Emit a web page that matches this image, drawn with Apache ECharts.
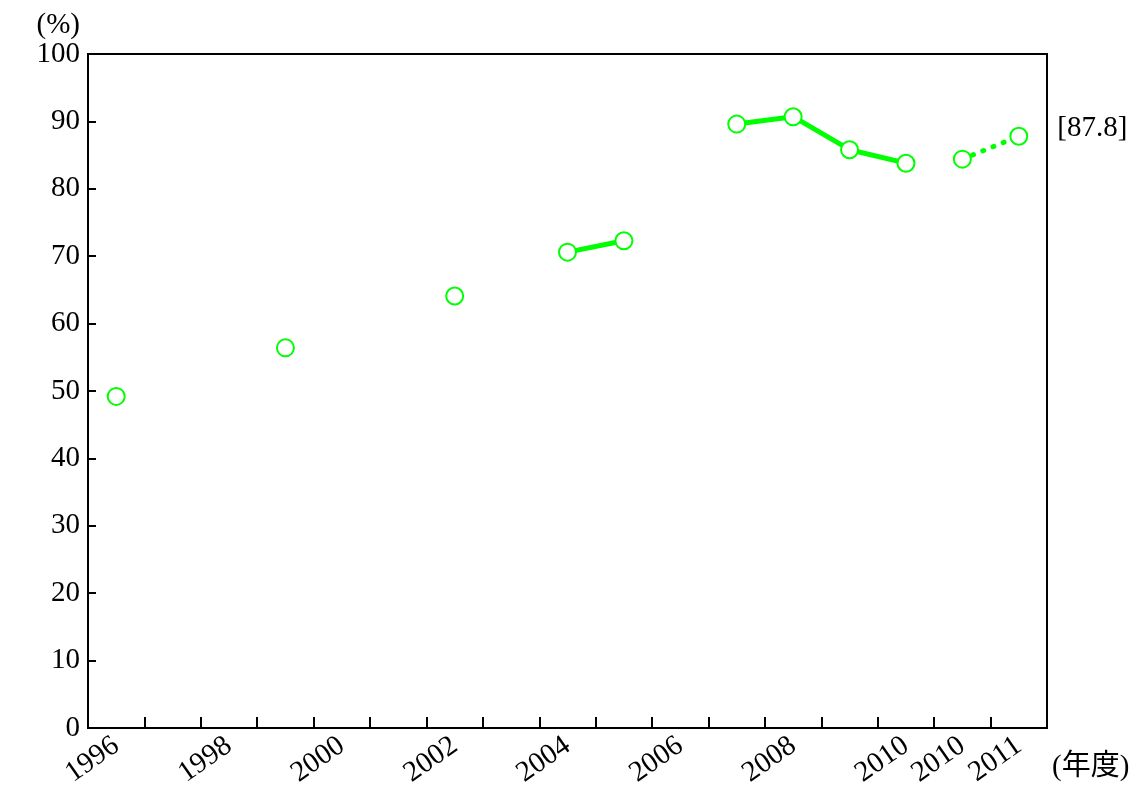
<!DOCTYPE html>
<html>
<head>
<meta charset="utf-8">
<script src="https://cdn.jsdelivr.net/npm/echarts@6/dist/echarts.min.js"></script>
<style>html,body{margin:0;padding:0;background:#fff}#c{width:1138px;height:803px}</style>
</head>
<body>
<div id="c"></div>
<script>
const categories = ['1996','1997','1998','1999','2000','2001','2002','2003','2004','2005','2006','2007','2008','2009','2010','2010b','2011'];
const tickLabels = ['1996','','1998','','2000','','2002','','2004','','2006','','2008','','2010','2010','2011'];
const solidValues = [49.2, null, null, 56.4, null, null, 64.1, null, 70.6, 72.3, null, 89.6, 90.7, 85.8, 83.8, 84.4, null];
const dottedValues = [null, null, null, null, null, null, null, null, null, null, null, null, null, null, null, 84.4, 87.8];
const yTicks = [0, 10, 20, 30, 40, 50, 60, 70, 80, 90, 100];

const FONT = '"Liberation Serif", "Noto Sans CJK JP", serif';
const GREEN = '#00ff00';
const chart = echarts.init(document.getElementById('c'), null, {renderer: 'canvas'});

// solid series: break between the two 2010 points
const solidData = solidValues.map((v, i) => (i === 15 ? null : v));
const lastIdx = dottedValues.length - 1;
const dottedData = dottedValues.map((v, i) => i === lastIdx && v != null ? {
  value: v,
  label: {show: true, position: 'right', distance: 29, offset: [0, -8], formatter: '[{c}]',
          color: '#000', fontSize: 29, fontFamily: FONT}
} : v);

chart.setOption({
  animation: false,
  backgroundColor: '#fff',
  grid: {left: 88, right: 91, top: 54, bottom: 75, containLabel: false, outerBoundsMode: 'none',
         show: true, borderColor: '#000', borderWidth: 2, backgroundColor: 'transparent'},
  xAxis: {
    type: 'category',
    data: categories,
    boundaryGap: true,
    name: '(年度)',
    nameLocation: 'end',
    nameGap: 5,
    nameTextStyle: {color: '#000', fontSize: 29, fontFamily: FONT, align: 'left', verticalAlign: 'top', padding: [25, 0, 0, 0]},
    axisLine: {show: true, lineStyle: {color: '#000', width: 2}},
    axisTick: {show: true, inside: true, length: 11, lineStyle: {color: '#000', width: 2}, alignWithLabel: false, interval: 0},
    axisLabel: {
      show: true, interval: 0, rotate: 35, margin: 15, color: '#000', fontSize: 29, fontFamily: FONT,
      hideOverlap: false,
      formatter: (v, i) => tickLabels[i]
    },
    splitLine: {show: false}
  },
  yAxis: {
    type: 'value',
    min: yTicks[0], max: yTicks[yTicks.length - 1], interval: 10,
    name: '(%)',
    nameLocation: 'end',
    nameGap: 26,
    nameTextStyle: {color: '#000', fontSize: 29, fontFamily: FONT, align: 'right', verticalAlign: 'middle', padding: [0, 8, 0, 0]},
    axisLine: {show: true, lineStyle: {color: '#000', width: 2}},
    axisTick: {show: true, inside: true, length: 8, lineStyle: {color: '#000', width: 2}},
    axisLabel: {margin: 8, color: '#000', fontSize: 29, fontFamily: FONT},
    splitLine: {show: false}
  },
  series: [
    {
      type: 'line',
      data: solidData,
      connectNulls: false,
      symbol: 'emptyCircle',
      symbolSize: 17,
      showAllSymbol: true,
      lineStyle: {color: GREEN, width: 5},
      itemStyle: {color: GREEN, borderColor: GREEN, borderWidth: 2},
      z: 2
    },
    {
      type: 'line',
      data: dottedData,
      connectNulls: false,
      symbol: 'emptyCircle',
      symbolSize: 17,
      showAllSymbol: true,
      lineStyle: {color: GREEN, width: 5, type: [1, 10], cap: 'round'},
      itemStyle: {color: GREEN, borderColor: GREEN, borderWidth: 2},
      z: 3
    }
  ]
});
</script>
</body>
</html>
